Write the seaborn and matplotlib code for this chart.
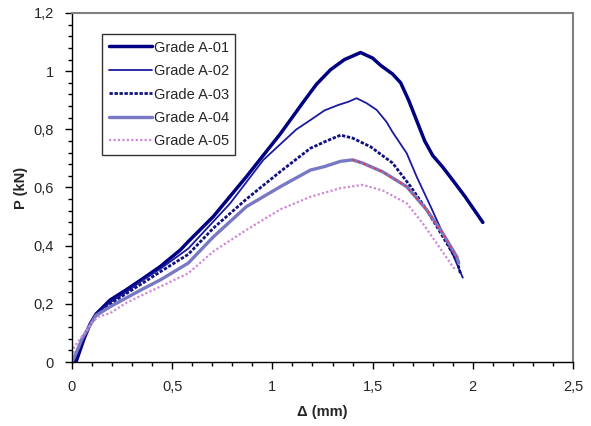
import matplotlib
matplotlib.use("Agg")
import matplotlib.pyplot as plt
import pandas as pd
import seaborn as sns
from matplotlib.ticker import MultipleLocator, FuncFormatter

a01_x = [0, 0.02, 0.035, 0.06, 0.09, 0.12, 0.19, 0.27, 0.35, 0.44, 0.54, 0.58, 0.705, 0.87, 1.04, 1.15,
         1.22, 1.29, 1.36, 1.44, 1.5, 1.54, 1.6, 1.64, 1.68, 1.72, 1.76, 1.80, 1.85, 1.9, 1.96, 2.0, 2.05]
a01_y = [0, 0.0, 0.03, 0.08, 0.13, 0.165, 0.213, 0.248, 0.285, 0.328, 0.385, 0.414, 0.50, 0.637, 0.785, 0.89,
         0.955, 1.005, 1.04, 1.064, 1.045, 1.02, 0.99, 0.96, 0.90, 0.83, 0.76, 0.71, 0.67, 0.625, 0.57, 0.53, 0.48]

a02_x = [0, 0.02, 0.05, 0.08, 0.12, 0.19, 0.27, 0.35, 0.44, 0.58, 0.79, 0.955, 1.12, 1.19, 1.26, 1.33,
         1.38, 1.42, 1.47, 1.52, 1.57, 1.6, 1.67, 1.72, 1.79, 1.85, 1.9, 1.95]
a02_y = [0, 0.02, 0.07, 0.115, 0.165, 0.205, 0.24, 0.28, 0.32, 0.39, 0.546, 0.695, 0.80, 0.832, 0.865, 0.884,
         0.895, 0.907, 0.89, 0.867, 0.825, 0.79, 0.718, 0.637, 0.534, 0.443, 0.37, 0.29]

a03_x = [0, 0.02, 0.05, 0.08, 0.12, 0.19, 0.27, 0.35, 0.44, 0.58, 0.705, 0.87, 1.04, 1.19, 1.27, 1.34,
         1.40, 1.49, 1.6, 1.69, 1.77, 1.84, 1.92, 1.94]
a03_y = [0, 0.025, 0.075, 0.115, 0.165, 0.2, 0.235, 0.27, 0.31, 0.37, 0.46, 0.56, 0.655, 0.735, 0.76, 0.78,
         0.77, 0.74, 0.684, 0.603, 0.523, 0.443, 0.35, 0.30]

a04_x = [0, 0.02, 0.05, 0.08, 0.12, 0.19, 0.27, 0.35, 0.44, 0.58, 0.705, 0.87, 1.04, 1.19, 1.26, 1.34,
         1.40, 1.45, 1.55, 1.67, 1.77, 1.85, 1.92, 1.93]
a04_y = [0, 0.03, 0.08, 0.115, 0.16, 0.19, 0.22, 0.25, 0.282, 0.34, 0.43, 0.534, 0.603, 0.66, 0.672, 0.69,
         0.695, 0.684, 0.654, 0.603, 0.523, 0.443, 0.362, 0.34]

a05_x = [0, 0.01, 0.04, 0.07, 0.1, 0.13, 0.19, 0.27, 0.35, 0.44, 0.58, 0.705, 0.87, 1.04, 1.19, 1.34,
         1.45, 1.55, 1.67, 1.75, 1.82, 1.90, 1.91]
a05_y = [0, 0.05, 0.08, 0.105, 0.135, 0.155, 0.168, 0.203, 0.23, 0.259, 0.305, 0.38, 0.454, 0.525, 0.568, 0.598,
         0.609, 0.59, 0.546, 0.477, 0.408, 0.328, 0.32]

labels = ['Grade A-01', 'Grade A-02', 'Grade A-03', 'Grade A-04', 'Grade A-05']

sns.set_style("white")
plt.rcParams['font.family'] = ['Liberation Sans', 'DejaVu Sans']

fig = plt.figure(figsize=(5.91, 4.26), dpi=100)
ax = fig.add_axes([72 / 591, 1 - 362 / 426, (573 - 72) / 591, (362 - 13) / 426])

series = [
    (a01_x, a01_y, dict(color='#000080', lw=2.5, ls='-')),
    (a02_x, a02_y, dict(color='#1a1aa0', lw=1.3, ls='-')),
    (a03_x, a03_y, dict(color='#101080', lw=2.0, ls=(0, (1.2, 0.6)))),
    (a04_x, a04_y, dict(color='#7878c4', lw=2.4, ls='-')),
    (a05_x, a05_y, dict(color='#d088d8', lw=1.6, ls=(0, (1, 1)))),
]
for (xs, ys, style), lab in zip(series, labels):
    df = pd.DataFrame({'x': xs, 'y': ys})
    sns.lineplot(data=df, x='x', y='y', sort=False, estimator=None, ax=ax, label=lab, **style)

# red dots on the falling branch of A-04
red = pd.DataFrame({'x': a04_x, 'y': a04_y})
red = red[(red.x >= 1.40) & (red.x <= 1.92)]
sns.lineplot(data=red, x='x', y='y', sort=False, estimator=None, ax=ax,
             color='#ff3030', lw=1.4, ls=(0, (1, 2)), legend=False)

ax.set_xlim(0, 2.5)
ax.set_ylim(0, 1.2)
ax.xaxis.set_major_locator(MultipleLocator(0.5))
ax.xaxis.set_minor_locator(MultipleLocator(0.1))
ax.yaxis.set_major_locator(MultipleLocator(0.2))
ax.yaxis.set_minor_locator(MultipleLocator(0.04))
fmt = FuncFormatter(lambda v, p: ('%g' % round(v, 2)).replace('.', ','))
ax.xaxis.set_major_formatter(fmt)
ax.yaxis.set_major_formatter(fmt)
ax.tick_params(which='major', direction='out', length=5, width=1, color='black',
               labelsize=10.5, bottom=True, left=True, pad=8)
ax.tick_params(which='minor', direction='out', length=3, width=1, color='black',
               bottom=True, left=True)

for s in ['left', 'bottom']:
    ax.spines[s].set_color('black')
    ax.spines[s].set_linewidth(1)
for s in ['top', 'right']:
    ax.spines[s].set_color('#808080')
    ax.spines[s].set_linewidth(1.5)

ax.set_xlabel('Δ (mm)', fontsize=10.5, fontweight='bold', labelpad=8)
ax.set_ylabel('P (kN)', fontsize=10.5, fontweight='bold', labelpad=4)

leg = ax.legend(loc='upper left', bbox_to_anchor=(102 / 591, 1 - 34 / 426),
                bbox_transform=fig.transFigure, fontsize=10.5, frameon=True, fancybox=False,
                edgecolor='black', handlelength=3.0, handletextpad=0.1, labelspacing=0.65,
                borderpad=0.45, borderaxespad=0)
leg.get_frame().set_linewidth(1)

plt.savefig('out.png', dpi=100)
